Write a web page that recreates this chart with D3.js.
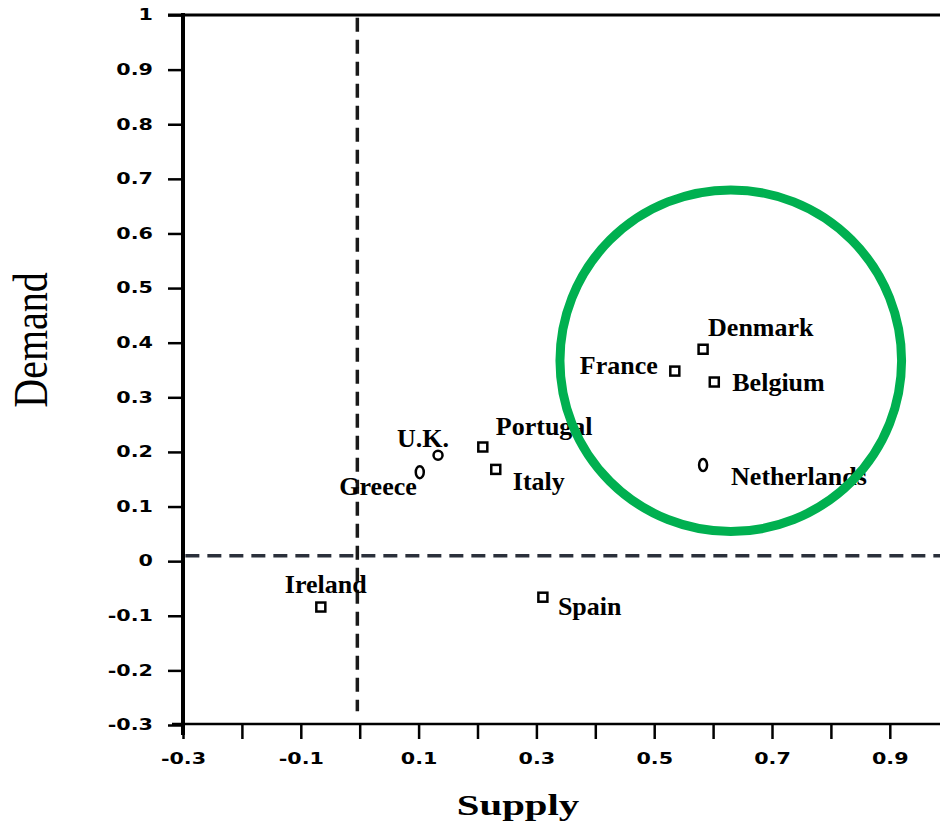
<!DOCTYPE html>
<html>
<head>
<meta charset="utf-8">
<script src="https://cdn.jsdelivr.net/npm/d3@7"></script>
<style>
    body { margin: 0; background: #fff; }
    #chart { width: 940px; height: 834px; }
    .tick-label { font-family: 'DejaVu Sans', sans-serif; font-weight: bold; font-size: 15px; fill: #000; }
    .country { font-family: 'Liberation Serif', serif; font-weight: bold; font-size: 26px; fill: #000; }
    .axis-title { font-family: 'Liberation Serif', serif; fill: #000; }
</style>
</head>
<body>
<div id="chart"></div>
<script>
//Datos
let countries = ['Denmark', 'France', 'Belgium', 'Netherlands', 'Portugal', 'Italy', 'U.K.', 'Greece', 'Ireland', 'Spain'];
let supply = [0.583, 0.535, 0.602, 0.583, 0.209, 0.231, 0.133, 0.102, -0.066, 0.311];
let demand = [0.388, 0.348, 0.328, 0.176, 0.209, 0.168, 0.194, 0.163, -0.084, -0.066];
let markers = ['square', 'square', 'square', 'oval', 'square', 'square', 'circle', 'oval', 'square', 'square'];

let xTicks = [-0.3, -0.2, -0.1, 0, 0.1, 0.2, 0.3, 0.4, 0.5, 0.6, 0.7, 0.8, 0.9];
let xTickLabels = ['-0.3', '', '-0.1', '', '0.1', '', '0.3', '', '0.5', '', '0.7', '', '0.9'];
let yTicks = [1, 0.9, 0.8, 0.7, 0.6, 0.5, 0.4, 0.3, 0.2, 0.1, 0, -0.1, -0.2, -0.3];
let yTickLabels = ['1', '0.9', '0.8', '0.7', '0.6', '0.5', '0.4', '0.3', '0.2', '0.1', '0', '-0.1', '-0.2', '-0.3'];

//Reference lines and highlighted group
let refSupply = -0.004, refDemand = 0.01;
let highlightCenter = [0.63, 0.367], highlightRadius = 0.29;

//Label placement (anchor, dx, dy) relative to each point
let labelPlacement = {
    'Denmark': ['start', 5, -13],
    'France': ['end', -17, 3],
    'Belgium': ['start', 18, 9],
    'Netherlands': ['start', 28, 20],
    'Portugal': ['start', 13, -12],
    'Italy': ['start', 17, 21],
    'U.K.': ['start', -41, -8],
    'Greece': ['end', -3, 23],
    'Ireland': ['start', -36, -14],
    'Spain': ['start', 15, 18]
};

let data = countries.map(function(c, i) {
    return {country: c, supply: supply[i], demand: demand[i], marker: markers[i]};
});

let stretch = 1.38;

let svg = d3.select('#chart')
    .append('svg')
    .attr('width', 940)
    .attr('height', 834);

//Escalas
let x = d3.scaleLinear().domain([-0.3, 1]).range([183, 183 + 13 * 58.9]);
let y = d3.scaleLinear().domain([-0.3, 1]).range([725, 15]);

//Eje X
let xAxis = function(g) {
    g.call(d3.axisBottom(x).tickValues(xTicks).tickSize(14).tickPadding(14).tickSizeOuter(0)
        .tickFormat(function(d, i) { return xTickLabels[i]; }));
    g.call(function(g) { g.select('.domain').remove(); });
    g.call(function(g) { g.selectAll('.tick line').attr('stroke', '#000').attr('stroke-width', 2.5); });
    g.call(function(g) { g.selectAll('.tick text').attr('class', 'tick-label').attr('transform', `scale(${stretch},1)`); });
};

svg.append('g')
    .attr('transform', `translate(0,${y(-0.3)})`)
    .call(xAxis);

//Eje Y
let yAxis = function(g) {
    g.call(d3.axisLeft(y).tickValues(yTicks).tickSize(15).tickPadding(15).tickSizeOuter(0)
        .tickFormat(function(d, i) { return yTickLabels[i]; }));
    g.call(function(g) { g.select('.domain').remove(); });
    g.call(function(g) { g.selectAll('.tick line').attr('stroke', '#000').attr('stroke-width', 2.5); });
    g.call(function(g) {
        g.selectAll('.tick text')
            .attr('class', 'tick-label')
            .attr('x', -30 / stretch)
            .attr('transform', `scale(${stretch},1)`);
    });
};

svg.append('g')
    .attr('transform', `translate(${x(-0.3)},0)`)
    .call(yAxis);

//Frame lines
svg.append('line')
    .attr('x1', x(-0.3)).attr('x2', x(-0.3))
    .attr('y1', y(1) - 2).attr('y2', y(-0.3) + 10)
    .attr('stroke', '#000').attr('stroke-width', 4);

svg.append('line')
    .attr('x1', x(-0.3) - 11).attr('x2', 940)
    .attr('y1', y(-0.3) - 1).attr('y2', y(-0.3) - 1)
    .attr('stroke', '#000').attr('stroke-width', 2.5);

svg.append('line')
    .attr('x1', x(-0.3) - 15).attr('x2', 940)
    .attr('y1', y(1)).attr('y2', y(1))
    .attr('stroke', '#000').attr('stroke-width', 3);

//Reference lines
svg.append('line')
    .attr('x1', x(refSupply)).attr('x2', x(refSupply))
    .attr('y1', y(0.995)).attr('y2', y(-0.275))
    .attr('stroke', '#1a1a1a').attr('stroke-width', 3.5)
    .attr('stroke-dasharray', '14 8');

svg.append('line')
    .attr('x1', x(-0.296)).attr('x2', x(1))
    .attr('y1', y(refDemand)).attr('y2', y(refDemand))
    .attr('stroke', '#2b303b').attr('stroke-width', 3.5)
    .attr('stroke-dasharray', '14 8');

//Puntos
let points = svg.selectAll('.point')
    .data(data)
    .enter()
    .append('g')
    .attr('class', 'point')
    .attr('transform', function(d) { return `translate(${x(d.supply)},${y(d.demand)})`; });

points.filter(function(d) { return d.marker == 'square'; })
    .append('rect')
    .attr('x', -4.5).attr('y', -4.5)
    .attr('width', 9).attr('height', 9)
    .attr('fill', '#fff').attr('stroke', '#000').attr('stroke-width', 2.5);

points.filter(function(d) { return d.marker == 'oval'; })
    .append('ellipse')
    .attr('rx', 4).attr('ry', 6)
    .attr('fill', '#fff').attr('stroke', '#000').attr('stroke-width', 2.5);

points.filter(function(d) { return d.marker == 'circle'; })
    .append('circle')
    .attr('r', 4.5)
    .attr('fill', '#fff').attr('stroke', '#000').attr('stroke-width', 2.5);

points.append('text')
    .attr('class', 'country')
    .attr('text-anchor', function(d) { return labelPlacement[d.country][0]; })
    .attr('x', function(d) { return labelPlacement[d.country][1]; })
    .attr('y', function(d) { return labelPlacement[d.country][2]; })
    .text(function(d) { return d.country; });

//Highlight circle
svg.append('circle')
    .attr('cx', x(highlightCenter[0]))
    .attr('cy', y(highlightCenter[1]))
    .attr('r', x(highlightCenter[0] + highlightRadius) - x(highlightCenter[0]))
    .attr('fill', 'none')
    .attr('stroke', '#00b050')
    .attr('stroke-width', 9);

//Axis titles
svg.append('text')
    .attr('class', 'axis-title')
    .attr('text-anchor', 'middle')
    .attr('transform', `translate(518,815) scale(1.36,1)`)
    .style('font-size', '30px')
    .style('font-weight', 'bold')
    .text('Supply');

svg.append('text')
    .attr('class', 'axis-title')
    .attr('text-anchor', 'middle')
    .attr('transform', `translate(47,340) rotate(-90) scale(1,1.2)`)
    .style('font-size', '40px')
    .text('Demand');
</script>
</body>
</html>
